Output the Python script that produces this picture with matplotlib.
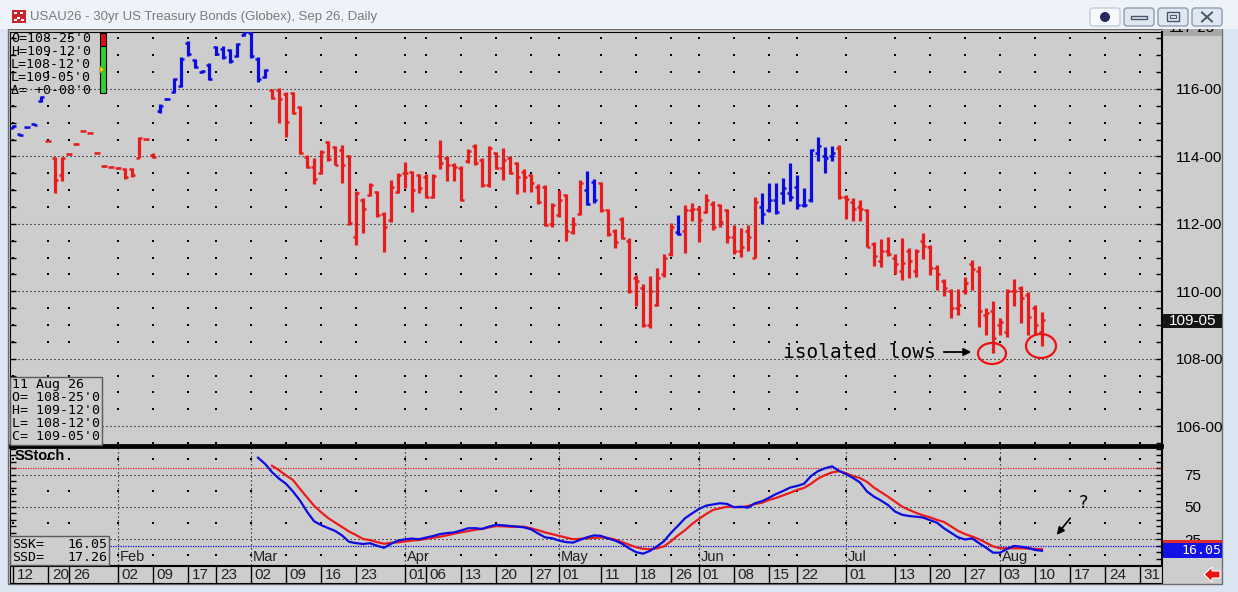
import matplotlib
matplotlib.use("Agg")
import matplotlib.pyplot as plt
from matplotlib.patches import Rectangle, Ellipse, FancyBboxPatch, Polygon
import numpy as np

plt.rcParams['font.family'] = ['Liberation Sans', 'DejaVu Sans']

W, H = 1238, 592
GRAY = '#cdcdcd'
RED = '#e81c1c'
BLUE = '#0c0ce0'
MONO = 'DejaVu Sans Mono'

# ---- price bars, one per trading day (index 0 = 12 Jan) ----
highs = [
    114.92, 114.67, 114.88, 114.98, 115.78, 114.49, 113.99, 113.99, 114.09, 114.39,
    114.78, 114.72, 114.13, 113.74, 113.71, 113.68, 113.66, 113.65, 114.58, 114.53,
    114.09, 115.55, 115.72, 116.34, 116.94, 117.43, 116.88, 116.55, 116.76, 117.28,
    117.28, 117.18, 117.37, 117.75, 117.75, 116.96, 116.58, 115.99, 116.02, 115.91,
    115.91, 115.50, 114.04, 113.94, 114.19, 114.46, 114.31, 114.34, 114.04, 112.97,
    112.76, 113.20, 112.97, 112.36, 113.30, 113.52, 113.84, 113.57, 113.47, 113.47,
    113.47, 114.49, 114.01, 113.80, 113.72, 114.21, 114.37, 113.94, 114.31, 114.14,
    114.24, 114.01, 113.84, 113.62, 113.48, 113.18, 113.15, 112.63, 113.00, 112.88,
    112.19, 113.30, 113.57, 113.32, 113.25, 112.43, 111.84, 112.19, 111.57, 110.48,
    110.21, 110.45, 110.68, 111.10, 112.03, 112.26, 112.56, 112.63, 112.53, 112.88,
    112.69, 112.59, 112.43, 111.96, 111.87, 111.96, 112.80, 112.92, 113.22, 113.20,
    113.35, 113.81, 113.45, 113.05, 114.21, 114.57, 114.27, 114.31, 114.34, 112.85,
    112.76, 112.71, 112.43, 111.47, 111.54, 111.60, 111.10, 111.57, 111.27, 111.24,
    111.74, 111.37, 110.78, 110.35, 110.06, 110.06, 110.41, 110.93, 110.75, 109.49,
    109.72, 109.20, 110.06, 110.35, 110.15, 109.98, 109.59, 109.375,
]
lows = [
    114.84, 114.62, 114.84, 114.92, 115.62, 114.45, 112.92, 113.28, 114.05, 114.35,
    114.74, 114.68, 114.09, 113.70, 113.67, 113.64, 113.32, 113.40, 113.94, 114.49,
    113.94, 115.30, 115.68, 115.89, 116.05, 116.98, 116.63, 116.48, 116.27, 117.01,
    116.88, 116.78, 116.94, 117.57, 116.91, 116.22, 116.32, 115.69, 115.00, 114.58,
    115.26, 114.06, 113.65, 113.17, 113.48, 113.87, 113.74, 113.20, 111.96, 111.37,
    111.72, 112.82, 112.21, 111.17, 112.06, 112.91, 113.05, 112.36, 112.91, 112.76,
    112.76, 113.62, 113.28, 113.28, 112.69, 113.80, 113.74, 113.10, 113.08, 113.62,
    113.30, 113.48, 112.88, 112.93, 112.93, 112.59, 111.93, 111.92, 112.19, 111.50,
    111.70, 112.26, 112.56, 112.61, 112.36, 111.64, 111.27, 111.54, 109.96, 109.56,
    108.95, 108.90, 109.56, 110.43, 111.04, 111.67, 111.14, 112.09, 111.47, 112.31,
    111.82, 111.92, 111.44, 111.12, 111.02, 111.20, 110.98, 111.99, 112.36, 112.29,
    112.59, 112.69, 112.43, 112.49, 112.66, 113.87, 113.52, 113.87, 112.73, 112.13,
    112.09, 112.09, 111.30, 110.75, 110.71, 111.04, 110.51, 110.33, 110.38, 110.41,
    110.95, 110.48, 110.04, 109.86, 109.20, 109.29, 109.92, 110.04, 108.93, 108.70,
    108.18, 108.70, 108.65, 109.56, 109.07, 108.70, 108.70, 108.375,
]
opens = [
    114.84, 114.65, 114.86, 114.95, 115.64, 114.47, 113.95, 113.45, 114.07, 114.37,
    114.76, 114.70, 114.11, 113.72, 113.69, 113.66, 113.62, 113.62, 113.96, 114.51,
    114.05, 115.35, 115.70, 115.92, 116.10, 117.35, 116.85, 116.50, 116.72, 117.25,
    117.20, 117.15, 116.98, 117.60, 117.65, 116.90, 116.35, 115.96, 115.96, 115.85,
    115.88, 115.47, 113.98, 113.70, 113.50, 114.44, 114.28, 114.20, 114.00, 111.62,
    112.70, 112.85, 112.94, 112.30, 112.10, 112.95, 113.50, 113.55, 113.45, 113.40,
    112.80, 114.00, 113.95, 113.75, 113.65, 113.85, 114.30, 113.90, 113.15, 114.10,
    113.65, 113.95, 113.80, 113.55, 113.45, 113.10, 113.10, 112.00, 112.25, 112.85,
    111.75, 112.30, 113.00, 113.25, 113.20, 112.40, 111.80, 112.15, 111.50, 110.40,
    110.10, 109.00, 109.60, 110.50, 111.10, 111.75, 111.80, 112.40, 112.45, 112.35,
    112.60, 112.55, 112.40, 111.60, 111.20, 111.80, 111.00, 112.50, 112.40, 112.70,
    112.90, 112.90, 113.10, 112.55, 112.70, 114.10, 114.00, 114.00, 114.25, 112.80,
    112.65, 112.50, 112.40, 111.40, 110.90, 111.20, 111.00, 110.60, 111.20, 110.60,
    111.50, 111.30, 110.70, 110.30, 110.00, 109.50, 110.00, 110.80, 110.60, 109.30,
    109.40, 109.00, 108.80, 110.00, 110.10, 109.90, 109.50, 108.78,
]
closes = [
    114.90, 114.64, 114.86, 114.93, 115.75, 114.47, 113.30, 113.95, 114.07, 114.37,
    114.76, 114.70, 114.11, 113.72, 113.69, 113.66, 113.38, 113.45, 114.55, 114.51,
    113.98, 115.50, 115.70, 116.30, 116.90, 117.05, 116.66, 116.53, 116.30, 117.05,
    116.95, 116.82, 117.33, 117.70, 116.98, 116.30, 116.55, 115.72, 115.69, 115.03,
    115.28, 114.09, 113.68, 113.32, 114.14, 113.91, 113.74, 113.74, 112.01, 112.92,
    112.43, 113.15, 112.25, 111.90, 113.10, 113.45, 113.52, 113.00, 113.05, 112.80,
    113.42, 113.80, 113.75, 113.70, 112.72, 114.15, 113.80, 113.15, 114.25, 113.65,
    113.90, 113.52, 113.40, 113.40, 113.20, 112.65, 111.96, 112.55, 112.70, 111.80,
    112.00, 113.20, 112.60, 112.70, 112.40, 111.70, 111.45, 111.58, 110.00, 110.30,
    109.00, 110.00, 110.40, 111.00, 111.90, 111.70, 112.40, 112.45, 112.10, 112.70,
    111.90, 112.05, 111.60, 111.20, 111.30, 111.60, 112.65, 112.30, 112.70, 112.35,
    113.05, 112.80, 112.55, 112.55, 114.20, 114.30, 113.95, 114.10, 112.80, 112.75,
    112.45, 112.45, 111.32, 111.05, 111.20, 111.10, 110.80, 110.85, 110.90, 111.20,
    111.35, 110.70, 110.50, 110.10, 109.50, 109.60, 110.25, 110.65, 109.40, 109.35,
    108.60, 109.10, 110.00, 110.00, 109.80, 109.25, 109.00, 109.156,
]
# runs of bars painted blue (first and last index), all others are red
blue_runs = [(0, 4), (21, 36), (82, 83), (95, 95), (107, 117)]

# ---- slow stochastic ----
ssk_start = 35
ssk = [
    88.2, 83.5, 77.0, 72.0, 68.0, 62.0, 55.0, 46.4, 39.0, 36.0,
    33.7, 31.5, 28.0, 23.0, 22.0, 21.3, 21.9, 20.0, 18.4, 21.5,
    24.0, 25.0, 25.5, 25.0, 26.3, 27.5, 29.0, 29.8, 30.3, 31.8,
    33.5, 33.6, 33.0, 34.8, 36.2, 35.8, 35.3, 34.8, 34.2, 32.7,
    29.5, 26.5, 25.8, 24.0, 22.8, 22.4, 24.5, 26.5, 28.0, 27.6,
    25.6, 24.0, 21.5, 18.0, 15.0, 13.8, 16.0, 19.5, 23.5, 30.0,
    35.5, 41.3, 45.0, 48.5, 51.0, 52.0, 52.9, 52.4, 49.8, 50.2,
    49.5, 52.9, 54.5, 57.2, 60.0, 62.4, 65.0, 66.3, 68.0, 74.0,
    77.8, 80.0, 81.5, 78.0, 75.5, 72.5, 69.0, 62.0, 58.0, 55.0,
    51.5, 46.5, 44.0, 43.0, 42.5, 41.8, 39.8, 37.8, 33.5, 30.0,
    26.5, 24.8, 25.7, 22.0, 18.5, 14.6, 14.6, 17.5, 19.8, 19.2,
    18.3, 16.7, 16.05,
]
ssd_start = 37
ssd = [
    82.0, 78.5, 74.5, 70.9, 64.0, 57.5, 51.0, 46.0, 41.5, 38.0,
    34.5, 31.0, 28.3, 25.2, 24.3, 22.8, 21.5, 22.2, 22.6, 23.3,
    24.0, 24.4, 25.3, 26.2, 27.0, 28.0, 29.3, 30.4, 31.3, 32.3,
    33.0, 34.2, 35.2, 35.0, 34.7, 34.7, 34.7, 33.5, 32.0, 30.3,
    29.0, 27.6, 26.3, 25.0, 25.3, 25.7, 26.1, 26.4, 26.0, 24.8,
    22.8, 20.8, 18.8, 17.6, 17.3, 18.0, 19.5, 23.5, 28.0, 32.0,
    36.8, 40.8, 44.5, 47.7, 49.0, 50.2, 50.0, 49.8, 50.8, 52.3,
    53.3, 55.5, 57.0, 59.0, 61.0, 63.2, 64.8, 68.0, 72.0, 74.7,
    76.8, 77.8, 76.1, 74.0, 72.4, 69.5, 65.0, 61.5, 58.0, 54.2,
    50.3, 47.8, 45.5, 43.5, 42.0, 40.0, 38.4, 35.0, 31.5, 29.0,
    27.2, 25.0, 22.3, 19.5, 18.0, 18.0, 18.0, 18.0, 17.8, 17.5,
    17.26,
]

# ---- time axis ----
day_tick_idx = [0, 5, 8, 15, 20, 25, 29, 34, 39, 44, 49, 56, 59, 64, 69, 74, 78,
                84, 89, 94, 98, 103, 108, 112, 119, 126, 131, 136, 141, 146, 151, 156, 161]
day_tick_lbl = ['12', '20', '26', '02', '09', '17', '23', '02', '09', '16', '23', '01',
                '06', '13', '20', '27', '01', '11', '18', '26', '01', '08', '15', '22',
                '01', '13', '20', '27', '03', '10', '17', '24', '31']
month_idx = [15, 34, 56, 78, 98, 119, 141]
month_lbl = ['Feb', 'Mar', 'Apr', 'May', 'Jun', 'Jul', 'Aug']

last_bar = ['11 Aug 26', "O= 108-25'0", "H= 109-12'0", "L= 108-12'0", "C= 109-05'0"]
top_info = ["O=108-25'0", "H=109-12'0", "L=108-12'0", "L=109-05'0", "\u0394= +0-08'0"]


def px_axes(x0, y0, x1, y1):
    return fig.add_axes([x0 / W, 1 - y1 / H, (x1 - x0) / W, (y1 - y0) / H])


def fmt_price(p):
    whole = int(np.floor(p + 1e-9))
    return f"{whole}-{int(round((p - whole) * 32)):02d}"


fig = plt.figure(figsize=(W / 100, H / 100), dpi=100)
fig.patch.set_facecolor('#dce6f2')

# window frame underneath
under = fig.add_axes([0, 0, 1, 1])
under.set_xlim(0, W)
under.set_ylim(H, 0)
under.axis('off')
under.set_zorder(0)
under.add_patch(Rectangle((8, 29), 1214, 555, fc=GRAY, ec='#6e6e6e', lw=1))

xlim = (-0.43, 164.14)
x = np.arange(len(highs))
is_blue = np.zeros(len(highs), bool)
for a, b in blue_runs:
    is_blue[a:b + 1] = True

# ---- price panel ----
axp = px_axes(10, 32, 1162, 445)
axp.set_zorder(2)
axp.set_facecolor(GRAY)
axp.set_xlim(*xlim)
axp.set_ylim(105.44, 117.69)

for lvl in np.arange(106, 117, 2):
    axp.axhline(lvl, color='k', lw=0.8, ls=(0, (1, 2.6)), zorder=1)
minor_lv = [v for v in np.arange(105.5, 118, 0.5) if v % 2 != 0]
gx, gy = np.meshgrid(day_tick_idx, minor_lv)
axp.scatter(gx.ravel(), gy.ravel(), s=1.2, marker='s', color='k', linewidths=0, zorder=1)

hi, lo, op, cl = map(np.array, (highs, lows, opens, closes))
for mask, col in ((~is_blue, RED), (is_blue, BLUE)):
    axp.vlines(x[mask], lo[mask], hi[mask], color=col, lw=2.3, zorder=3)
    axp.hlines(op[mask], x[mask] - 0.45, x[mask], color=col, lw=1.8, zorder=3)
    axp.hlines(cl[mask], x[mask], x[mask] + 0.45, color=col, lw=1.8, zorder=3)

axp.set_xticks([])
axp.yaxis.tick_right()
axp.set_yticks(np.arange(106, 117, 2))
axp.set_yticklabels([fmt_price(v) for v in np.arange(106, 117, 2)])
axp.set_yticks(np.arange(105.5, 118, 0.5), minor=True)
axp.tick_params(which='both', direction='in', left=True, right=True, labelleft=False,
                labelright=True, length=4, width=1, pad=10, labelsize=11)
for s in axp.spines.values():
    s.set_color('k')
axp.spines['bottom'].set_linewidth(2)
axp.spines['right'].set_linewidth(1.5)

# ---- stochastic panel ----
axs = px_axes(10, 447, 1162, 565)
axs.set_zorder(2)
axs.set_facecolor(GRAY)
axs.set_xlim(*xlim)
axs.set_ylim(5.04, 96.5)
for lvl in (25, 50, 75):
    axs.axhline(lvl, color='k', lw=0.8, ls=(0, (1, 2.6)), zorder=1)
for mx in month_idx:
    axs.axvline(mx, color='k', lw=0.8, ls=(0, (1, 2.6)), zorder=1)
gx, gy = np.meshgrid(day_tick_idx, [12.5, 37.5, 62.5, 87.5])
axs.scatter(gx.ravel(), gy.ravel(), s=1.2, marker='s', color='k', linewidths=0, zorder=1)
axs.axhline(80, color=RED, lw=0.9, ls=(0, (1, 1)), zorder=2)
axs.axhline(20, color=BLUE, lw=0.9, ls=(0, (1, 1)), zorder=2)
axs.plot(np.arange(ssd_start, ssd_start + len(ssd)), ssd, color=RED, lw=1.6, zorder=3)
axs.plot(np.arange(ssk_start, ssk_start + len(ssk)), ssk, color=BLUE, lw=1.6, zorder=4)
for mx, ml in zip(month_idx, month_lbl):
    axs.text(mx + 0.3, 11.0, ml, fontsize=10.5, va='center', ha='left', color='#222')
axs.set_xticks([])
axs.yaxis.tick_right()
axs.set_yticks([25, 50, 75])
axs.set_yticks(np.arange(10, 96, 5), minor=True)
axs.tick_params(which='both', direction='in', left=True, right=True, labelleft=False,
                labelright=True, length=4, width=1, pad=16, labelsize=11)
for s in axs.spines.values():
    s.set_color('k')
axs.spines['top'].set_linewidth(2)
axs.spines['right'].set_linewidth(1.5)

# ---- date strip ----
axd = px_axes(10, 566, 1162, 583)
axd.set_zorder(2)
axd.set_facecolor(GRAY)
axd.set_xlim(*xlim)
axd.set_ylim(0, 1)
axd.vlines(day_tick_idx, 0, 1, color='k', lw=1)
for tx, tl in zip(day_tick_idx, day_tick_lbl):
    axd.text(tx + 0.55, 0.45, tl, fontsize=11, va='center', ha='left', color='#222')
axd.set_xticks([])
axd.set_yticks([])
for s in axd.spines.values():
    s.set_color('k')

# ---- overlays in pixel coordinates ----
over = fig.add_axes([0, 0, 1, 1])
over.set_xlim(0, W)
over.set_ylim(H, 0)
over.axis('off')
over.set_zorder(5)
over.patch.set_alpha(0)

# top of the price scale, half hidden under the title bar
over.add_patch(Rectangle((1163, 22), 59, 14, fc='#a7a7a7', ec='none', zorder=1))
over.text(1192, 28.5, fmt_price(117.78125), fontsize=11, ha='center', va='center', zorder=1)

# title bar (covers the clipped scale label)
over.add_patch(Rectangle((0, 0), W, 29, fc='#eef3f9', ec='none', zorder=2))
over.add_patch(Rectangle((12, 10), 14, 13, fc='#c8262c', ec='none', zorder=3))
for bx, by in ((14, 12), (20, 12), (17, 17), (14, 19), (21, 19)):
    over.add_patch(Rectangle((bx, by), 3, 2, fc='white', ec='none', zorder=3))
over.text(30, 17, 'USAU26 - 30yr US Treasury Bonds (Globex), Sep 26, Daily',
          fontsize=9.5, color='#7a7a7a', va='center', ha='left', zorder=3)
over.add_patch(FancyBboxPatch((1090, 8), 30, 18, boxstyle='round,pad=0,rounding_size=3',
                              fc='#f7f9fc', ec='#c3ccd8', lw=1, zorder=3))
over.add_patch(Ellipse((1105, 17), 10, 10, fc='#262a5c', ec='none', zorder=4))
for bx in (1124, 1158, 1192):
    over.add_patch(FancyBboxPatch((bx, 8), 30, 18, boxstyle='round,pad=0,rounding_size=3',
                                  fc='#dfe7f1', ec='#8f9cb0', lw=1, zorder=3))
over.add_patch(Rectangle((1131, 16), 16, 3, fc='none', ec='#4a5568', lw=1, zorder=4))
over.add_patch(Rectangle((1167, 12), 12, 9, fc='none', ec='#4a5568', lw=1, zorder=4))
over.add_patch(Rectangle((1170, 15), 6, 3, fc='none', ec='#4a5568', lw=0.8, zorder=4))
over.plot([1202, 1212], [12.5, 21.5], color='#4a5568', lw=1.4, zorder=4)
over.plot([1202, 1212], [21.5, 12.5], color='#4a5568', lw=1.4, zorder=4)

# OHLC read-out top left
for k, t in enumerate(top_info):
    over.text(11, 38.5 + 12.9 * k, t, family=MONO, fontsize=9.5, va='center', ha='left')
over.add_patch(Rectangle((100, 33), 5.5, 13, fc='#e01010', ec='k', lw=0.8))
over.add_patch(Rectangle((100, 46), 5.5, 47, fc='#2fd02f', ec='k', lw=0.8))
over.add_patch(Polygon([(100, 66), (100, 73), (104.5, 69.5)], fc='#ffe400', ec='#9a8a00', lw=0.6))

# last bar box
over.add_patch(Rectangle((10, 377), 92, 68, fc=GRAY, ec='#5a5a5a', lw=1))
for k, t in enumerate(last_bar):
    over.text(12, 384.5 + 13.1 * k, t, family=MONO, fontsize=9.5, va='center', ha='left')

# stochastic labels
over.text(15, 455.5, 'SStoch', fontsize=10.5, fontweight='bold', va='center', ha='left')
over.add_patch(Rectangle((10, 536), 99, 29, fc=GRAY, ec='#5a5a5a', lw=1))
over.text(12, 544, 'SSK=', family=MONO, fontsize=9.5, va='center', ha='left')
over.text(107, 544, f'{ssk[-1]:.2f}', family=MONO, fontsize=9.5, va='center', ha='right')
over.text(12, 557.5, 'SSD=', family=MONO, fontsize=9.5, va='center', ha='left')
over.text(107, 557.5, f'{ssd[-1]:.2f}', family=MONO, fontsize=9.5, va='center', ha='right')

# right scale value boxes
over.add_patch(Rectangle((1163, 314), 59, 14, fc='#151515', ec='none'))
over.text(1192.5, 321, fmt_price(closes[-1]), fontsize=11, color='white', ha='center', va='center')
over.add_patch(Rectangle((1163, 540), 59, 15, fc='#e52a2a', ec='none'))
over.add_patch(Rectangle((1163, 542.5), 59, 15, fc='#1212e6', ec='none'))
over.text(1221, 551, f'{ssk[-1]:.2f}', family=MONO, fontsize=9.5, color='white', ha='right', va='center')

# red navigation arrow bottom right
over.add_patch(Polygon([(1204, 574.5), (1212, 567), (1212, 571), (1220, 571), (1220, 578),
                        (1212, 578), (1212, 582)], fc='#ee1111', ec='white', lw=0.8))

# annotations
over.text(783, 352, 'isolated lows', family=MONO, fontsize=14, va='center', ha='left')
over.annotate('', xy=(974, 352), xytext=(941, 352),
              arrowprops=dict(arrowstyle='-|>', color='k', lw=1.3, mutation_scale=11))
over.add_patch(Ellipse((992, 353.5), 28, 21, fc='none', ec='#ee1111', lw=1.6))
over.add_patch(Ellipse((1041, 346), 30, 24, fc='none', ec='#ee1111', lw=1.6))
over.text(1083, 503, '?', fontsize=13, va='center', ha='center', family='DejaVu Sans')
over.annotate('', xy=(1055, 537), xytext=(1072, 516),
              arrowprops=dict(arrowstyle='-|>', color='k', lw=1.2, mutation_scale=11))

fig.savefig('out.png', dpi=100, facecolor=fig.get_facecolor())
